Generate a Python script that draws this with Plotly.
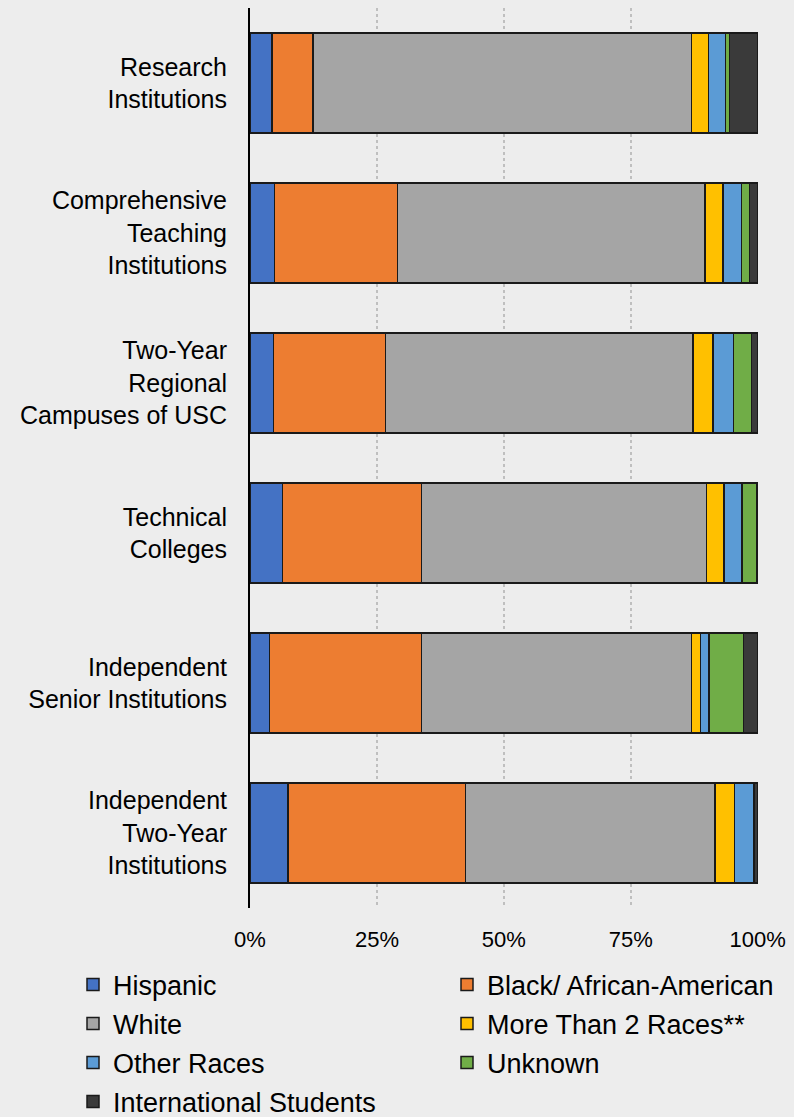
import plotly.graph_objects as go

categories = [
    "Research<br>Institutions",
    "Comprehensive<br>Teaching<br>Institutions",
    "Two-Year<br>Regional<br>Campuses of USC",
    "Technical<br>Colleges",
    "Independent<br>Senior Institutions",
    "Independent<br>Two-Year<br>Institutions",
]

hispanic = [4.3, 4.8, 4.6, 6.4, 3.8, 7.5]
black = [8.1, 24.2, 22.1, 27.4, 30.0, 34.9]
white = [74.6, 60.6, 60.5, 56.1, 53.2, 49.2]
more_than_2 = [3.3, 3.6, 4.0, 3.5, 1.7, 3.8]
other_races = [3.3, 3.6, 4.0, 3.5, 1.7, 3.9]
unknown = [0.8, 1.6, 3.6, 3.0, 6.8, 0.0]
international = [5.6, 1.6, 1.2, 0.1, 2.8, 0.7]

tick_vals = [0, 25, 50, 75, 100]
tick_text = ["0%", "25%", "50%", "75%", "100%"]

series_names = ["Hispanic", "Black/ African-American", "White",
                "More Than 2 Races**", "Other Races", "Unknown",
                "International Students"]
series_values = [hispanic, black, white, more_than_2, other_races,
                 unknown, international]
series_colors = ["#4472C4", "#ED7D31", "#A5A5A5", "#FFC000", "#5B9BD5",
                 "#70AD47", "#3A3A3A"]

FONT = "Liberation Sans, Arial, sans-serif"
BG = "#EDEDED"

L, R, T, B = 250, 36, 8, 209
W, H = 794, 1117
pw = W - L - R
ph = H - T - B


def py(ypx):
    return (H - B - ypx) / ph


def px(xpx):
    return (xpx - L) / pw


# legend grid (pixel anchors): two columns, four rows
col_x = [73, 447]
row_y = [985, 1024, 1063, 1102]

fig = go.Figure()
legend_layout = {}
for i, (name, vals, color) in enumerate(zip(series_names, series_values, series_colors)):
    lg = "legend" if i == 0 else f"legend{i + 1}"
    fig.add_trace(go.Bar(
        y=categories, x=vals, name=name, orientation="h",
        marker=dict(color=color, line=dict(color="#1A1A1A", width=1.5)),
        legend=lg, showlegend=True,
    ))
    legend_layout[lg] = dict(
        x=px(col_x[i % 2]), y=py(row_y[i // 2]),
        xanchor="left", yanchor="middle", orientation="h",
        font=dict(family=FONT, size=27, color="#000000"),
        bgcolor="rgba(0,0,0,0)", itemwidth=30, visible=True,
    )

fig.update_layout(
    width=W, height=H,
    margin=dict(l=L, r=R, t=T, b=B, pad=0, autoexpand=False),
    paper_bgcolor=BG, plot_bgcolor=BG,
    barmode="stack", bargap=0.333,
    showlegend=True,
    font=dict(family=FONT, color="#000000"),
    xaxis=dict(
        range=[0, 100.05], tickvals=tick_vals, ticktext=tick_text,
        showgrid=True, gridcolor="#BFBFBF", gridwidth=2, griddash="dot",
        zeroline=False, showline=False, ticks="",
        tickfont=dict(family=FONT, size=22, color="#000000"),
        ticklabelstandoff=16, automargin=False,
    ),
    yaxis=dict(
        autorange="reversed", showgrid=False, zeroline=False,
        showline=True, linecolor="#000000", linewidth=2, ticks="",
        tickfont=dict(family=FONT, size=25, color="#000000"),
        ticklabelstandoff=16, automargin=False,
    ),
    **legend_layout,
)

fig.write_html("out.html", config={"displayModeBar": False},
               post_script="document.body.style.margin='0';")
